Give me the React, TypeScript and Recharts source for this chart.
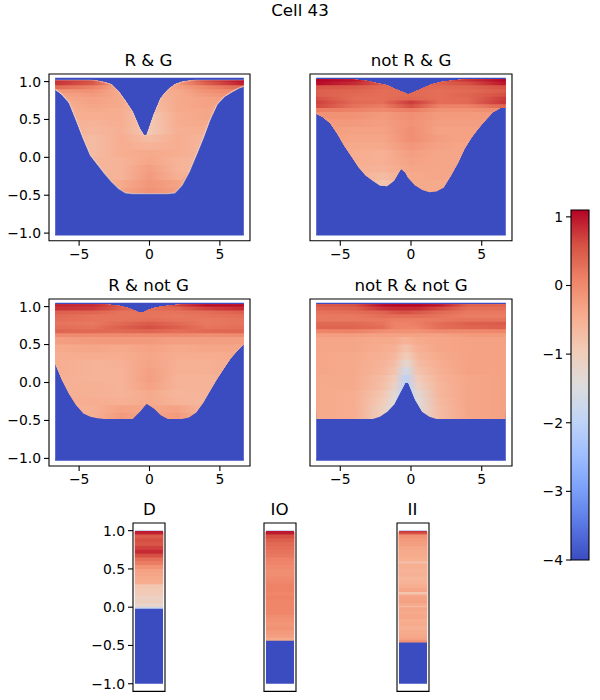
import React from 'react';
import { ComposedChart, Area, Line, XAxis, YAxis, ReferenceArea } from 'recharts';

const FONT = '"DejaVu Sans", sans-serif';

// coolwarm, evenly spaced
const CMAP = ['#3b4cc0', '#5977e3', '#7b9ff9', '#9ebeff', '#c0d4f5', '#dddcdc', '#f2cbb7', '#f7ac8e', '#ee8468', '#d65244', '#b40426'];
const V_MIN = -4;
const V_MAX = 1.1;
const BLUE = '#3b4cc0';

const XS = [-6.7, -6.2, -5.7, -5.2, -4.7, -4.2, -3.7, -3.2, -2.7, -2.2, -1.7, -1.2, -0.7, -0.4, -0.2, 0.3, 0.8, 1.3, 1.8, 2.3, 2.8, 3.3, 3.8, 4.3, 4.8, 5.3, 5.8, 6.3, 6.7];
const KNOTS = [-6.7, -4, -2, 0, 2, 4, 6.7];
const NOTCH_KNOTS = [-6.7, -4, -2, -1.2, -0.35, 0.5, 2, 4, 6.7];
const ROW_Y = [1.0, 0.95, 0.9, 0.85, 0.8, 0.75, 0.7, 0.65, 0.6, 0.5, 0.4, 0.3, 0.2, 0.1, 0, -0.1, -0.2, -0.3, -0.4, -0.5];

const RG_LOW = [0.9, 0.83, 0.72, 0.49, 0.25, 0.03, -0.09, -0.21, -0.32, -0.41, -0.47, -0.48, -0.48, -0.48, -0.48, -0.48, -0.48, -0.48, -0.47, -0.37, -0.2, 0.02, 0.25, 0.5, 0.7, 0.8, 0.86, 0.91, 0.94];
const RG_HIGH = [1.02, 1.02, 1.02, 1.02, 1.02, 1.02, 1.01, 0.99, 0.96, 0.87, 0.74, 0.6, 0.38, 0.29, 0.29, 0.56, 0.78, 0.89, 0.96, 0.995, 1.01, 1.02, 1.02, 1.02, 1.02, 1.02, 1.02, 1.02, 1.02];
const RG_ROWS = [
  [0.85, 0.65, -0.2, -0.3, -0.2, 0.7, 1.1],
  [0.8, 0.5, -0.4, -0.4, -0.2, 0.45, 0.95],
  [0.35, 0.1, -0.4, -0.5, -0.3, 0.05, 0.4],
  [-0.15, -0.1, -0.45, -0.5, -0.4, -0.1, 0.1],
  [-0.3, -0.2, -0.4, -0.6, -0.4, -0.2, 0],
  [-0.35, -0.3, -0.4, -0.7, -0.4, -0.3, -0.2],
  [-0.5, -0.3, -0.4, -0.7, -0.4, -0.3, -0.3],
  [-0.5, -0.35, -0.4, -0.75, -0.4, -0.3, -0.35],
  [-0.5, -0.4, -0.45, -0.8, -0.4, -0.35, -0.4],
  [-0.5, -0.45, -0.45, -0.9, -0.45, -0.35, -0.4],
  [-0.5, -0.55, -0.45, -0.9, -0.45, -0.4, -0.4],
  [-0.5, -0.6, -0.5, -0.9, -0.5, -0.45, -0.4],
  [-0.5, -0.7, -0.45, -0.7, -0.45, -0.6, -0.4],
  [-0.5, -0.7, -0.45, -0.55, -0.45, -0.6, -0.4],
  [-0.5, -0.7, -0.45, -0.4, -0.45, -0.6, -0.4],
  [-0.5, -0.6, -0.55, -0.35, -0.55, -0.6, -0.4],
  [-0.5, -0.6, -0.55, -0.25, -0.55, -0.6, -0.4],
  [-0.5, -0.55, -0.55, -0.2, -0.5, -0.55, -0.4],
  [-0.5, -0.5, -0.4, -0.15, -0.3, -0.5, -0.4],
  [-0.5, -0.5, -0.3, -0.1, -0.25, -0.5, -0.4],
];

const NRG_LOW = [0.58, 0.53, 0.45, 0.31, 0.15, 0.01, -0.13, -0.24, -0.31, -0.37, -0.38, -0.31, -0.15, -0.2, -0.27, -0.37, -0.43, -0.46, -0.45, -0.4, -0.25, -0.08, 0.12, 0.27, 0.39, 0.5, 0.6, 0.65, 0.65];
const NRG_HIGH = [1.03, 1.03, 1.03, 1.03, 1.03, 1.03, 1.02, 1.01, 0.99, 0.97, 0.95, 0.91, 0.87, 0.85, 0.83, 0.87, 0.91, 0.95, 0.98, 1, 1.01, 1.02, 1.03, 1.03, 1.03, 1.03, 1.03, 1.03, 1.03];
const NRG_ROWS = [
  [1.1, 1.0, 0.6, 0.5, 0.6, 0.8, 1.1],
  [1.05, 0.85, 0.5, 0.4, 0.45, 0.6, 1.0],
  [0.55, 0.5, 0.35, 0.4, 0.35, 0.4, 0.6],
  [0.45, 0.4, 0.3, 0.35, 0.3, 0.35, 0.5],
  [0.45, 0.35, 0.3, 0.35, 0.3, 0.4, 0.6],
  [0.6, 0.3, 0.3, 0.4, 0.3, 0.35, 0.75],
  [0.7, 0.35, 0.3, 0.75, 0.3, 0.35, 0.8],
  [0.65, 0.25, 0.15, 0.6, 0.1, 0.1, 0.4],
  [0.15, 0.1, 0, 0.15, -0.1, -0.1, 0],
  [-0.1, -0.1, -0.2, -0.05, -0.2, -0.2, -0.2],
  [-0.2, -0.2, -0.25, -0.1, -0.25, -0.25, -0.2],
  [-0.2, -0.3, -0.3, -0.05, -0.3, -0.3, -0.2],
  [-0.2, -0.35, -0.35, -0.05, -0.25, -0.3, -0.2],
  [-0.2, -0.4, -0.4, -0.15, -0.3, -0.35, -0.2],
  [-0.2, -0.45, -0.5, -0.25, -0.35, -0.35, -0.2],
  [-0.2, -0.45, -0.5, -0.3, -0.35, -0.35, -0.2],
  [-0.2, -0.5, -0.55, -0.35, -0.35, -0.35, -0.2],
  [-0.2, -0.5, -0.7, -0.4, -0.35, -0.35, -0.2],
  [-0.2, -0.5, -0.85, -0.4, -0.4, -0.4, -0.2],
  [-0.2, -0.5, -0.85, -0.4, -0.4, -0.4, -0.2],
];

const RNG_LOW = [0.25, 0.03, -0.15, -0.3, -0.41, -0.45, -0.47, -0.48, -0.48, -0.48, -0.48, -0.48, -0.39, -0.32, -0.28, -0.34, -0.43, -0.48, -0.48, -0.48, -0.46, -0.4, -0.27, -0.11, 0.05, 0.19, 0.33, 0.43, 0.51];
const RNG_HIGH = [1.03, 1.03, 1.03, 1.03, 1.03, 1.03, 1.03, 1.03, 1.02, 1.01, 0.99, 0.96, 0.92, 0.93, 0.95, 0.98, 1, 1.01, 1.02, 1.03, 1.03, 1.03, 1.03, 1.03, 1.03, 1.03, 1.03, 1.03, 1.03];
const RNG_ROWS = [
  [0.9, 0.85, 0.55, 0.35, 0.7, 1.05, 1.05],
  [0.8, 0.75, 0.45, 0.3, 0.4, 0.7, 0.85],
  [0.45, 0.4, 0.25, 0.25, 0.25, 0.3, 0.45],
  [0.35, 0.25, 0.25, 0.25, 0.2, 0.25, 0.3],
  [0.3, 0.25, 0.25, 0.3, 0.25, 0.2, 0.25],
  [0.25, 0.2, 0.35, 0.5, 0.35, 0.2, 0.25],
  [0.3, 0.25, 0.45, 0.6, 0.45, 0.25, 0.3],
  [0.4, 0.35, 0.35, 0.4, 0.3, 0.35, 0.4],
  [0, 0, 0, 0, 0, -0.05, 0],
  [-0.25, -0.2, -0.2, -0.2, -0.25, -0.25, -0.25],
  [-0.4, -0.35, -0.4, -0.3, -0.4, -0.35, -0.35],
  [-0.45, -0.45, -0.45, -0.35, -0.45, -0.45, -0.4],
  [-0.45, -0.55, -0.5, -0.32, -0.5, -0.5, -0.4],
  [-0.45, -0.55, -0.55, -0.28, -0.5, -0.5, -0.4],
  [-0.5, -0.55, -0.55, -0.25, -0.55, -0.55, -0.5],
  [-0.5, -0.5, -0.55, -0.3, -0.55, -0.55, -0.5],
  [-0.5, -0.5, -0.55, -0.4, -0.6, -0.55, -0.5],
  [-0.5, -0.45, -0.5, -0.4, -0.55, -0.6, -0.5],
  [-0.5, -0.5, -0.3, -0.35, -0.3, -0.6, -0.5],
  [-0.5, -0.5, -0.2, -0.35, -0.2, -0.6, -0.5],
];

const NRNG_LOW = [-0.48, -0.48, -0.48, -0.48, -0.48, -0.48, -0.48, -0.48, -0.48, -0.45, -0.39, -0.29, -0.11, 0, 0, -0.23, -0.39, -0.45, -0.48, -0.48, -0.48, -0.48, -0.48, -0.48, -0.48, -0.48, -0.48, -0.48, -0.48];
const NRNG_HIGH = [1.03, 1.03, 1.03, 1.03, 1.03, 1.03, 1.03, 1.03, 1.03, 1.03, 1.03, 1.03, 1.03, 1.03, 1.03, 1.03, 1.03, 1.03, 1.03, 1.03, 1.03, 1.03, 1.03, 1.03, 1.03, 1.03, 1.03, 1.03, 1.03];
const NRNG_ROWS = [
  [0.55, 0.6, 1.05, 1.1, 1.1, 1.1, 1.0, 0.45, 0.4],
  [0.4, 0.45, 0.8, 0.85, 0.85, 0.85, 0.65, 0.3, 0.3],
  [0.25, 0.3, 0.4, 0.55, 0.6, 0.5, 0.35, 0.2, 0.2],
  [0.2, 0.2, 0.3, 0.3, 0.3, 0.3, 0.25, 0.15, 0.15],
  [0.2, 0.2, 0.2, 0.15, 0.15, 0.15, 0.2, 0.25, 0.25],
  [0.35, 0.35, 0.25, 0.1, 0.1, 0.15, 0.3, 0.45, 0.5],
  [0.4, 0.4, 0.3, 0.1, 0.05, 0.1, 0.3, 0.4, 0.45],
  [0.05, 0.1, -0.05, -0.1, -0.1, -0.1, 0, 0, 0.05],
  [-0.25, -0.25, -0.3, -0.3, -0.3, -0.3, -0.3, -0.2, -0.2],
  [-0.35, -0.35, -0.4, -0.4, -0.55, -0.4, -0.35, -0.3, -0.3],
  [-0.35, -0.35, -0.45, -0.5, -0.8, -0.5, -0.35, -0.3, -0.3],
  [-0.35, -0.4, -0.5, -0.6, -1.0, -0.6, -0.4, -0.3, -0.3],
  [-0.35, -0.4, -0.55, -0.7, -1.3, -0.7, -0.45, -0.3, -0.3],
  [-0.35, -0.4, -0.6, -0.8, -1.7, -0.8, -0.5, -0.3, -0.3],
  [-0.4, -0.4, -0.7, -0.95, -2, -0.95, -0.55, -0.35, -0.3],
  [-0.4, -0.4, -0.75, -1.1, -2, -1.1, -0.6, -0.35, -0.3],
  [-0.4, -0.45, -0.85, -1.3, -2, -1.3, -0.6, -0.35, -0.3],
  [-0.4, -0.45, -0.95, -1.4, -2, -1.4, -0.65, -0.35, -0.3],
  [-0.4, -0.45, -1.05, -1.4, -2, -1.4, -0.7, -0.35, -0.3],
  [-0.4, -0.45, -1.05, -1.4, -2, -1.4, -0.7, -0.35, -0.3],
];

const STRIP_XS = [-1, 1];

const D_Y = [-0.02, 0, 0.05, 0.1, 0.15, 0.2, 0.25, 0.3, 0.35, 0.4, 0.45, 0.5, 0.55, 0.6, 0.65, 0.7, 0.75, 0.8, 0.85, 0.9, 0.95, 0.98];
const D_V = [-1.9, -1.2, -1.05, -1.1, -0.95, -0.9, -0.85, -0.45, -0.4, -0.35, -0.3, -0.1, 0.15, 0.3, 0.6, 0.85, 0.7, 0.55, 0.6, 0.5, 0.9, 1.1];

const IO_Y = [-0.44, -0.4, -0.35, -0.3, -0.25, -0.2, -0.15, -0.1, -0.05, 0, 0.05, 0.1, 0.15, 0.2, 0.25, 0.3, 0.35, 0.4, 0.45, 0.5, 0.55, 0.6, 0.65, 0.7, 0.75, 0.8, 0.85, 0.9, 0.95, 0.98];
const IO_V = [-0.4, -0.25, -0.2, -0.1, -0.15, -0.1, -0.05, 0.05, 0.05, 0.05, 0.05, 0.1, 0.05, 0.1, 0.1, 0.05, 0, -0.05, -0.05, 0, 0.05, 0.1, 0.2, 0.25, 0.3, 0.35, 0.45, 0.6, 0.95, 1.1];

const II_Y = [-0.46, -0.43, -0.4, -0.35, -0.3, -0.25, -0.2, -0.15, -0.1, -0.05, 0, 0.02, 0.05, 0.1, 0.15, 0.17, 0.2, 0.25, 0.3, 0.35, 0.4, 0.45, 0.5, 0.55, 0.57, 0.6, 0.65, 0.7, 0.75, 0.8, 0.85, 0.9, 0.95, 0.98];
const II_V = [-0.1, -0.3, -0.38, -0.42, -0.5, -0.42, -0.45, -0.35, -0.4, -0.35, -0.65, -0.38, -0.3, -0.32, -0.45, -0.85, -0.35, -0.45, -0.55, -0.6, -0.5, -0.55, -0.48, -0.52, -0.75, -0.48, -0.42, -0.4, -0.35, -0.25, -0.2, -0.1, 0.55, 1.05];

const PANEL_X_TICKS = [-5, 0, 5];
const Y_TICKS = [-1, -0.5, 0, 0.5, 1];
const CBAR_TICKS = [-4, -3, -2, -1, 0, 1];

const hexToRgb = (h: string) => [1, 3, 5].map(i => parseInt(h.slice(i, i + 2), 16));

const colorOf = (v: number) => {
  const t = Math.max(0, Math.min(1, (v - V_MIN) / (V_MAX - V_MIN))) * (CMAP.length - 1);
  const i = Math.min(CMAP.length - 2, Math.floor(t));
  const a = hexToRgb(CMAP[i]);
  const b = hexToRgb(CMAP[i + 1]);
  const c = a.map((p, k) => Math.round(p + (b[k] - p) * (t - i)));
  return `rgb(${c[0]},${c[1]},${c[2]})`;
};

const minus = (s: string) => s.replace('-', '\u2212');
const tickStyle = { fill: '#000', fontSize: 13.9, fontFamily: FONT };
const tickLine = { stroke: '#000', strokeWidth: 1.1 };

const LEFT = 60;
const TOP = 6;
const AXIS_H = 30;

type Box = { x: number; y: number; w: number; h: number };
type HeatProps = {
  id: string;
  box: Box;
  xs: number[];
  low: number[];
  high: number[];
  rowY: number[];
  rows: number[][];
  knots?: number[];
  blue: [number, number];
  xDomain: [number, number];
  showX?: boolean;
  showY?: boolean;
  edge?: boolean;
};

const HeatAxes: React.FC<HeatProps> = ({ id, box, xs, low, high, rowY, rows, knots = KNOTS, blue, xDomain, showX, showY, edge }) => {
  // bottom row first, each one paints up to the top edge so no seams show between rows
  const order = rowY.map((y, i) => ({ y, values: rows[i] })).sort((a, b) => a.y - b.y);
  const data = xs.map((x, i) => {
    const row: any = { x, blue, low: low[i], high: high[i] };
    order.forEach((r, k) => {
      row[`b${k}`] = [Math.min(high[i], Math.max(low[i], r.y)), high[i]];
    });
    return row;
  });
  const bottom = showX ? AXIS_H : 6;
  const span = xs[xs.length - 1] - xs[0];
  return (
    <div style={{ position: 'absolute', left: box.x - LEFT, top: box.y - TOP }}>
      <ComposedChart
        width={LEFT + box.w + 6}
        height={TOP + box.h + bottom}
        data={data}
        margin={{ top: TOP, right: 6, bottom: showX ? 0 : bottom, left: showY ? 0 : LEFT }}
      >
        <defs>
          {order.map((r, k) =>
            r.values.length > 1 ? (
              <linearGradient key={k} id={`${id}-${k}`} x1="0" y1="0" x2="1" y2="0">
                {r.values.map((v, j) => (
                  <stop key={j} offset={(knots[j] - xs[0]) / span} stopColor={colorOf(v)} />
                ))}
              </linearGradient>
            ) : null
          )}
        </defs>
        <XAxis
          dataKey="x"
          type="number"
          domain={xDomain}
          ticks={PANEL_X_TICKS}
          hide={!showX}
          height={showX ? AXIS_H : 0}
          axisLine={false}
          tickLine={tickLine}
          tickSize={5}
          tickMargin={3}
          tick={tickStyle}
          interval={0}
          tickFormatter={(v: number) => minus(String(v))}
        />
        <YAxis
          type="number"
          domain={[-1.1, 1.1]}
          ticks={Y_TICKS}
          hide={!showY}
          width={LEFT}
          axisLine={false}
          tickLine={tickLine}
          tickSize={5}
          tickMargin={3}
          tick={tickStyle}
          interval={0}
          tickFormatter={(v: number) => minus(v.toFixed(1))}
        />
        <Area
          dataKey="blue"
          type="linear"
          fill={BLUE}
          fillOpacity={1}
          stroke={BLUE}
          strokeWidth={showX ? 1.5 : 0}
          strokeLinejoin="round"
          dot={false}
          activeDot={false}
          isAnimationActive={false}
        />
        {order.map((r, k) => (
          <Area
            key={k}
            dataKey={`b${k}`}
            type="linear"
            fill={r.values.length > 1 ? `url(#${id}-${k})` : colorOf(r.values[0])}
            fillOpacity={1}
            stroke="none"
            dot={false}
            activeDot={false}
            isAnimationActive={false}
          />
        ))}
        {edge ? (
          <Line dataKey="low" type="linear" stroke="#e3d9d4" strokeOpacity={0.55} strokeWidth={1.3} dot={false} activeDot={false} isAnimationActive={false} />
        ) : null}
        {edge ? (
          <Line dataKey="high" type="linear" stroke="#e3d9d4" strokeOpacity={0.35} strokeWidth={1.2} dot={false} activeDot={false} isAnimationActive={false} />
        ) : null}
        <ReferenceArea x1={xDomain[0]} x2={xDomain[1]} y1={-1.1} y2={1.1} fill="none" stroke="#000" strokeWidth={1.1} ifOverflow="visible" />
      </ComposedChart>
    </div>
  );
};

const Strip: React.FC<{ id: string; x: number; rowY: number[]; rowV: number[]; showY?: boolean }> = ({ id, x, rowY, rowV, showY }) => (
  <HeatAxes
    id={id}
    box={{ x, y: 523.3, w: 32, h: 168.4 }}
    xs={STRIP_XS}
    low={[rowY[0], rowY[0]]}
    high={[0.99, 0.99]}
    rowY={rowY}
    rows={rowV.map(v => [v])}
    blue={[-1, 1]}
    xDomain={[-1.14, 1.14]}
    showY={showY}
  />
);

const ColorBar: React.FC = () => {
  const data = [
    { x: 0, v: [V_MIN, V_MAX] },
    { x: 1, v: [V_MIN, V_MAX] },
  ];
  return (
    <div style={{ position: 'absolute', left: 570.5 - LEFT, top: 210.3 - TOP }}>
      <ComposedChart width={LEFT + 18 + 6} height={TOP + 350 + 10} data={data} margin={{ top: TOP, right: 6, bottom: 10, left: 0 }}>
        <defs>
          <linearGradient id="cbar" x1="0" y1="1" x2="0" y2="0">
            {CMAP.map((c, i) => (
              <stop key={i} offset={i / (CMAP.length - 1)} stopColor={c} />
            ))}
          </linearGradient>
        </defs>
        <XAxis dataKey="x" type="number" domain={[0, 1]} hide height={0} />
        <YAxis
          type="number"
          domain={[V_MIN, V_MAX]}
          ticks={CBAR_TICKS}
          width={LEFT}
          axisLine={false}
          tickLine={tickLine}
          tickSize={5}
          tickMargin={3}
          tick={tickStyle}
          interval={0}
          tickFormatter={(v: number) => minus(String(v))}
        />
        <Area dataKey="v" type="linear" fill="url(#cbar)" fillOpacity={1} stroke="none" dot={false} activeDot={false} isAnimationActive={false} />
        <ReferenceArea x1={0} x2={1} y1={V_MIN} y2={V_MAX} fill="none" stroke="#000" strokeWidth={1.1} ifOverflow="visible" />
      </ComposedChart>
    </div>
  );
};

const TITLES: [string, number, number][] = [
  ['R & G', 148.5, 65.5],
  ['not R & G', 411, 65.5],
  ['R & not G', 148.5, 290.5],
  ['not R & not G', 411, 290.5],
  ['D', 149.3, 515],
  ['IO', 279.6, 515],
  ['II', 412.5, 515],
  ['Cell 43', 300, 16],
];

export default function App() {
  const panel = { xs: XS, rowY: ROW_Y, blue: [-1.02, 1.04] as [number, number], xDomain: [-7.14, 7.14] as [number, number] };
  return (
    <div style={{ position: 'absolute', left: 0, top: 0, width: 600, height: 700, background: '#fff', overflow: 'hidden' }}>
      <svg width={600} height={700} style={{ position: 'absolute', left: 0, top: 0 }}>
        {TITLES.map(([t, x, y]) => (
          <text key={t} x={x} y={y} textAnchor="middle" fontFamily={FONT} fontSize={16.67} fill="#000">
            {t}
          </text>
        ))}
      </svg>
      <HeatAxes id="rg" box={{ x: 48.7, y: 74.3, w: 201, h: 166.7 }} low={RG_LOW} high={RG_HIGH} rows={RG_ROWS} showX showY edge {...panel} />
      <HeatAxes id="nrg" box={{ x: 310.3, y: 74.3, w: 202, h: 166.7 }} low={NRG_LOW} high={NRG_HIGH} rows={NRG_ROWS} showX {...panel} />
      <HeatAxes id="rng" box={{ x: 48.7, y: 299, w: 201, h: 167 }} low={RNG_LOW} high={RNG_HIGH} rows={RNG_ROWS} showX showY {...panel} />
      <HeatAxes id="nrng" box={{ x: 310.3, y: 299, w: 202, h: 167 }} low={NRNG_LOW} high={NRNG_HIGH} rows={NRNG_ROWS} knots={NOTCH_KNOTS} showX {...panel} />
      <Strip id="d" x={133.3} rowY={D_Y} rowV={D_V} showY />
      <Strip id="io" x={263.6} rowY={IO_Y} rowV={IO_V} />
      <Strip id="ii" x={396.7} rowY={II_Y} rowV={II_V} />
      <ColorBar />
    </div>
  );
}
